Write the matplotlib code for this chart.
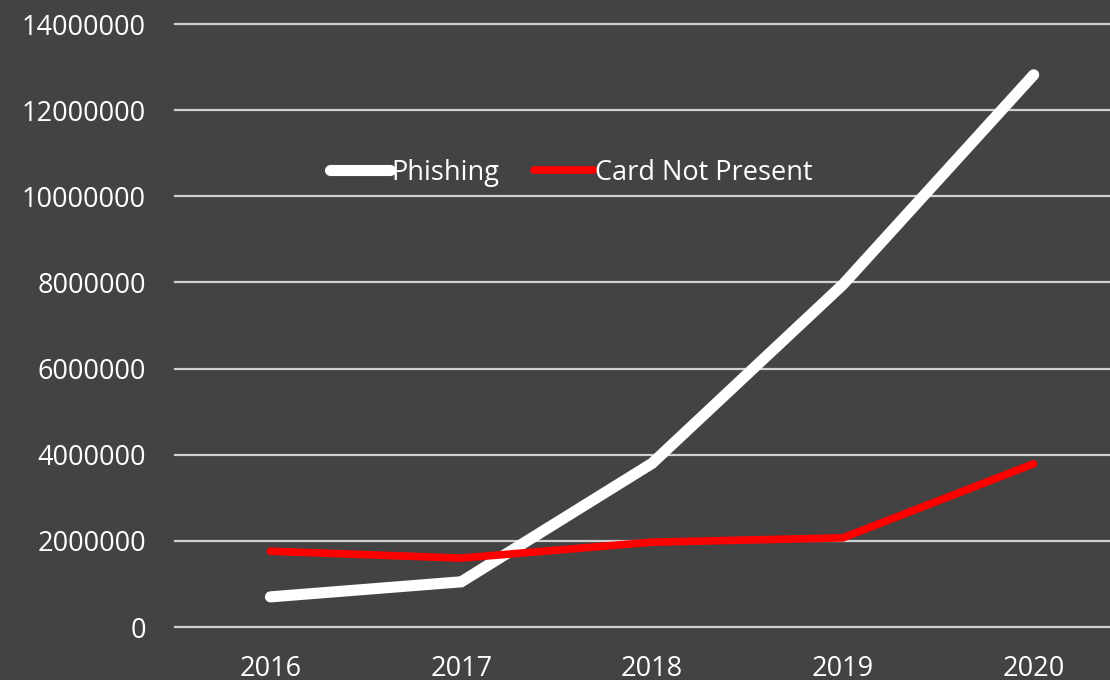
import matplotlib.pyplot as plt

years = ["2016", "2017", "2018", "2019", "2020"]
phishing = [700000, 1050000, 3800000, 7950000, 12820000]
card_not_present = [1760000, 1600000, 1970000, 2070000, 3790000]

bg = "#434343"
plt.rcParams["font.family"] = ["Open Sans", "DejaVu Sans"]

fig = plt.figure(figsize=(11.1, 6.8), dpi=100, facecolor=bg)
ax = fig.add_axes([0.1577, 0.0779, 0.8423, 0.8868], facecolor=bg)

x = range(len(years))
ax.plot(x, phishing, color="white", lw=8, solid_capstyle="round",
        solid_joinstyle="miter", label="Phishing", zorder=3)
ax.plot(x, card_not_present, color="#ff0000", lw=5.5, solid_capstyle="round",
        solid_joinstyle="miter", label="Card Not Present", zorder=3)

ax.set_xlim(-0.5, 4.4)
ax.set_ylim(0, 14000000)
ax.set_yticks(range(0, 14000001, 2000000))
ax.set_xticks(list(x))
ax.set_xticklabels(years)
ax.yaxis.set_major_formatter(plt.FuncFormatter(lambda v, p: f"{int(v)}"))

# horizontal grid only
for v in ax.get_yticks():
    ax.axhline(v, color="#d0d0d0", lw=1.6, zorder=1, clip_on=False)

for s in ax.spines.values():
    s.set_visible(False)
ax.tick_params(axis="both", length=0, colors="white", labelsize=19.5)
ax.tick_params(axis="y", pad=21)
ax.tick_params(axis="x", pad=20)

leg = ax.legend(loc="center left", bbox_to_anchor=(0.166, 0.753), ncol=2,
                frameon=False, fontsize=19.5, handlelength=2.2,
                handletextpad=0.05, columnspacing=1.3, borderpad=0,
                borderaxespad=0)
for t in leg.get_texts():
    t.set_color("white")

fig.savefig("out.png", dpi=100, facecolor=bg)
